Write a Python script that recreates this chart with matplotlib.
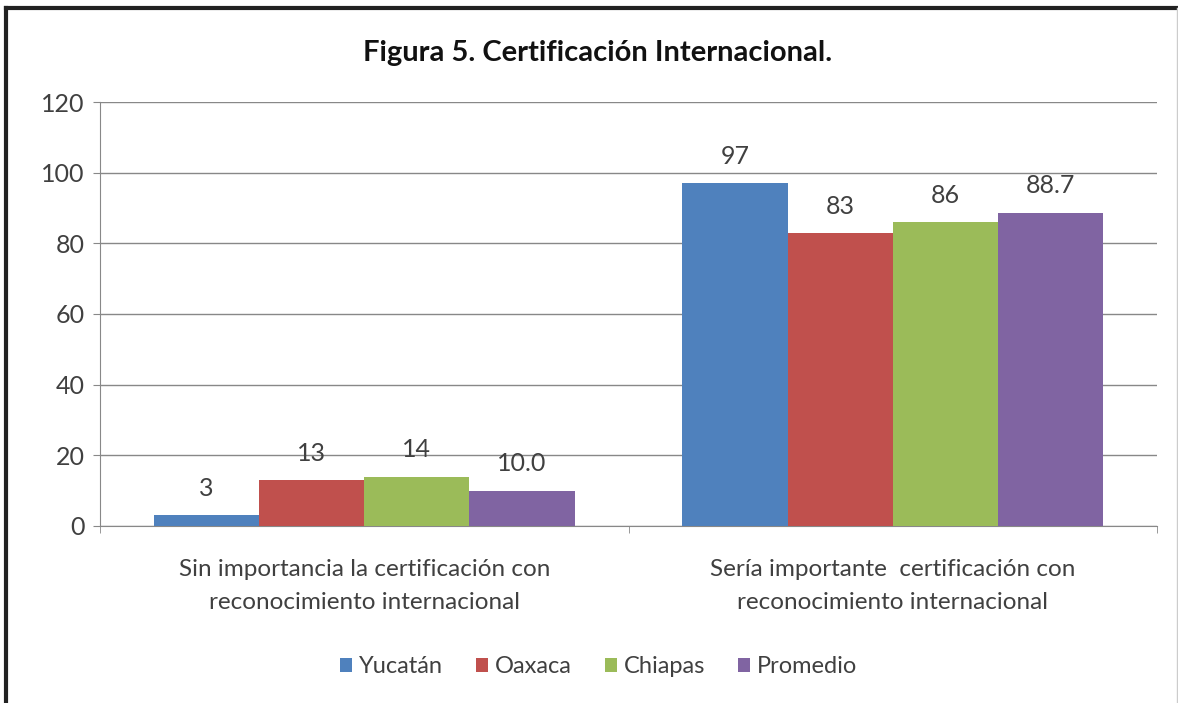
import matplotlib.pyplot as plt
from matplotlib.lines import Line2D
import numpy as np

plt.rcParams['font.family'] = ['Lato', 'DejaVu Sans']

categories = ['Sin importancia la certificación con\nreconocimiento internacional',
              'Sería importante  certificación con\nreconocimiento internacional']
series = ['Yucatán', 'Oaxaca', 'Chiapas', 'Promedio']
yucatan = [3, 97]
oaxaca = [13, 83]
chiapas = [14, 86]
promedio = [10.0, 88.7]
labels = [['3', '97'], ['13', '83'], ['14', '86'], ['10.0', '88.7']]
colors = ['#4F81BD', '#C0504D', '#9BBB59', '#8064A2']

fig = plt.figure(figsize=(11.78, 7.03), dpi=100)
ax = fig.add_axes([0.0849, 0.2518, 0.8973, 0.6031])

x = np.arange(len(categories))
width = 0.199
values = [yucatan, oaxaca, chiapas, promedio]
for i, (vals, name, col) in enumerate(zip(values, series, colors)):
    pos = x + (i - 1.5) * width
    ax.bar(pos, vals, width, color=col, label=name, zorder=3)
    for p, v, t in zip(pos, vals, labels[i]):
        ax.text(p, v + 4.3, t, ha='center', va='bottom', fontsize=18, color='#404040')

ax.set_xlim(-0.5, 1.5)
ax.set_ylim(0, 120)
ax.set_yticks(range(0, 121, 20))
ax.tick_params(axis='y', labelsize=18, labelcolor='#404040', length=5, direction='out',
               color='#888888', pad=6)
ax.grid(axis='y', color='#888888', linewidth=1, zorder=0)

ax.set_xticks(x)
ax.set_xticklabels(categories, fontsize=17.5, color='#404040', linespacing=1.7)
ax.tick_params(axis='x', length=0, pad=24)
ax.set_xticks([-0.5, 0.5, 1.5], minor=True)
ax.tick_params(axis='x', which='minor', length=5, color='#888888', direction='out')

for s in ['top', 'right']:
    ax.spines[s].set_visible(False)
ax.spines['left'].set_color('#888888')
ax.spines['bottom'].set_color('#888888')

fig.text(0.5076, 0.924, 'Figura 5. Certificación Internacional.', fontsize=21,
         fontweight='bold', color='#111111', ha='center', va='center')

ax.legend(loc='center', bbox_to_anchor=(0.472, -0.332), ncol=4, frameon=False,
          fontsize=17, handlelength=0.5, handleheight=0.5, handletextpad=0.3,
          columnspacing=1.4, labelcolor='#404040')

# black frame on left and top like the screenshot
fig.add_artist(Line2D([0.0047, 0.0047], [0, 0.988], color='#222222', linewidth=3))
fig.add_artist(Line2D([0.0047, 1.0], [0.988, 0.988], color='#222222', linewidth=3))
fig.add_artist(Line2D([0.999, 0.999], [0, 0.988], color='#cccccc', linewidth=1))

fig.savefig('out.png', dpi=100)
